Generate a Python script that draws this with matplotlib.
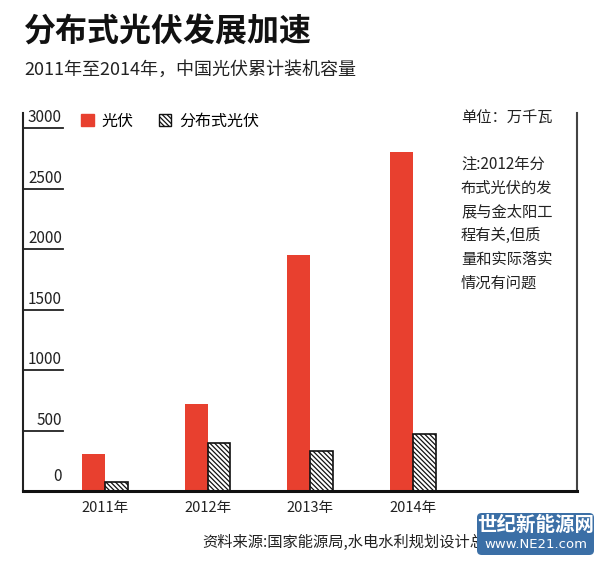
import matplotlib
matplotlib.use("Agg")
import matplotlib.pyplot as plt
from matplotlib.patches import Patch, FancyBboxPatch

plt.rcParams['font.family'] = ['Noto Sans CJK SC', 'DejaVu Sans']
plt.rcParams['hatch.linewidth'] = 0.9

years = ["2011年", "2012年", "2013年", "2014年"]
pv_total = [310, 720, 1950, 2800]
pv_distributed = [75, 395, 330, 470]
y_ticks = [500, 1000, 1500, 2000, 2500, 3000]
note_lines = ["注:2012年分", "布式光伏的发", "展与金太阳工",
              "程有关,但质", "量和实际落实", "情况有问题"]

RED = "#e8402f"
HATCH = "\\" * 7
W, H = 600, 567


def fx(x):
    return x / W


def fy(y):
    return 1 - y / H


fig = plt.figure(figsize=(6, 5.67), dpi=100)
ax = fig.add_axes([fx(23), fy(491), fx(577) - fx(23), fy(113) - fy(491)])

xs = range(len(years))
bw = 0.222
ax.bar([x - bw / 2 for x in xs], pv_total, width=bw, color=RED, label="光伏")
ax.bar([x + bw / 2 for x in xs], pv_distributed, width=bw, color="white",
       edgecolor="#111111", linewidth=1.2, hatch=HATCH, label="分布式光伏")

ax.set_xlim(-0.8, 4.6)
ax.set_ylim(0, 3125)
ax.set_xticks(list(xs))
ax.set_xticklabels(years, fontsize=10.5, color="#222222")
ax.tick_params(axis="x", length=0, pad=7)
ax.set_yticks([])

ax.spines["top"].set_visible(False)
ax.spines["left"].set_linewidth(1.5)
ax.spines["left"].set_color("#222222")
ax.spines["right"].set_linewidth(1.5)
ax.spines["right"].set_color("#444444")
ax.spines["bottom"].set_linewidth(2.2)
ax.spines["bottom"].set_color("#111111")

# y ticks: short rules with the number sitting on them
tr = ax.get_yaxis_transform()
for v in y_ticks:
    ax.plot([0, 40 / 554], [v, v], transform=tr, color="#222222", lw=1.3,
            clip_on=False)
    ax.text(39 / 554, v + 15, str(v), transform=tr, ha="right", va="bottom",
            fontsize=11, color="#222222")
ax.text(39 / 554, 50, "0", transform=tr, ha="right", va="bottom",
        fontsize=11, color="#222222")

handles = [Patch(facecolor=RED, edgecolor=RED),
           Patch(facecolor="white", edgecolor="#111111", hatch=HATCH,
                 linewidth=1.0)]
fig.legend(handles, ["光伏", "分布式光伏"], loc="center left",
           bbox_to_anchor=(fx(81), fy(121)), ncol=2, frameon=False,
           fontsize=11.5, handlelength=0.8, handleheight=0.8,
           handletextpad=0.5, columnspacing=1.55, borderpad=0,
           borderaxespad=0)

fig.text(fx(24), fy(33), "分布式光伏发展加速", fontsize=23, fontweight="bold",
         color="#111111", va="center", ha="left")
fig.text(fx(24), fy(70), "2011年至2014年，中国光伏累计装机容量", fontsize=13,
         color="#222222", va="center", ha="left")

fig.text(fx(461), fy(118), "单位：万千瓦", fontsize=11, color="#222222",
         va="center", ha="left")
for i, line in enumerate(note_lines):
    fig.text(fx(461), fy(165 + i * 23.6), line, fontsize=11, color="#222222",
             va="center", ha="left")

fig.text(fx(202), fy(542), "资料来源:国家能源局,水电水利规划设计总院规划部",
         fontsize=11, color="#222222", va="center", ha="left", zorder=3)

# site watermark, drawn over the end of the source line
box = FancyBboxPatch((fx(477), fy(555)), fx(594) - fx(477), fy(513) - fy(555),
                     boxstyle="round,pad=0,rounding_size=0.008",
                     transform=fig.transFigure, facecolor="#3b6fa6",
                     edgecolor="none", zorder=5)
fig.patches.append(box)
fig.text(fx(536), fy(525), "世纪新能源网", fontsize=14, fontweight="bold",
         color="white", ha="center", va="center", zorder=6)
fig.text(fx(536), fy(545), "www.NE21.com", fontsize=9.5, color="white",
         ha="center", va="center", family=["DejaVu Sans"], zorder=6)

fig.savefig("out.png", dpi=100, facecolor="white")
